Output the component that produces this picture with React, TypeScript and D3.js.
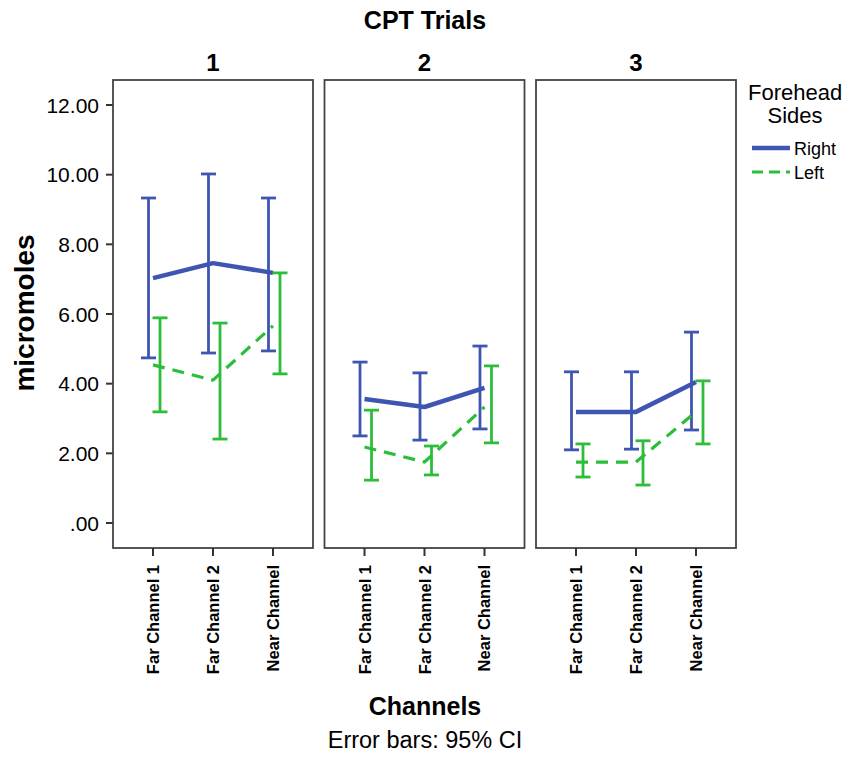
import React from 'react';
import * as d3 from 'd3';

const trials = ['1', '2', '3'];
const channels = ['Far Channel 1', 'Far Channel 2', 'Near Channel'];
const yTicks = [0, 2, 4, 6, 8, 10, 12];

// means and 95% CI per trial (rows) and channel (cols)
const rightMean = [[7.03, 7.46, 7.18], [3.56, 3.33, 3.88], [3.19, 3.19, 4.05]];
const rightLow = [[4.74, 4.88, 4.94], [2.5, 2.38, 2.7], [2.1, 2.12, 2.67]];
const rightHigh = [[9.33, 10.02, 9.33], [4.62, 4.31, 5.08], [4.34, 4.34, 5.48]];
const leftMean = [[4.54, 4.1, 5.66], [2.18, 1.75, 3.33], [1.75, 1.75, 3.19]];
const leftLow = [[3.19, 2.41, 4.28], [1.23, 1.38, 2.3], [1.32, 1.09, 2.27]];
const leftHigh = [[5.89, 5.74, 7.18], [3.24, 2.21, 4.51], [2.27, 2.36, 4.08]];

const BLUE = '#3f55b2';
const GREEN = '#2dbd3b';
const FONT = 'Liberation Sans, Arial, sans-serif';

export default function App() {
  const width = 845;
  const height = 759;
  const panelTop = 80;
  const panelBottom = 548;
  const panelW = 200;
  const panelGap = 11.5;
  const firstLeft = 113;

  const y = d3.scaleLinear().domain([0, 12]).range([523, 105]);
  const x = d3.scalePoint<string>().domain(channels).range([0, panelW]).padding(0.667);
  const line = d3.line<number>().x((_, i) => x(channels[i]) as number).y(d => y(d));

  const series = [
    { name: 'Right', color: BLUE, mean: rightMean, low: rightLow, high: rightHigh, off: -4.5, dash: null, lw: 4.5 },
    { name: 'Left', color: GREEN, mean: leftMean, low: leftLow, high: leftHigh, off: 7, dash: '12,8', lw: 3.2 },
  ];

  return (
    <svg width={width} height={height} style={{ position: 'absolute', left: 0, top: 0, background: '#fff' }}>
      <text x={425} y={29} textAnchor="middle" fontFamily={FONT} fontWeight="bold" fontSize={25}>CPT Trials</text>

      {/* y axis */}
      <g>
        {yTicks.map(t => (
          <g key={t}>
            <line x1={106} x2={113} y1={y(t)} y2={y(t)} stroke="#333" strokeWidth={2} />
            <text x={99} y={y(t) + 7.5} textAnchor="end" fontFamily={FONT} fontSize={21}>
              {t === 0 ? '.00' : t.toFixed(2)}
            </text>
          </g>
        ))}
        <text transform={`translate(34,313) rotate(-90)`} textAnchor="middle" fontFamily={FONT} fontWeight="bold" fontSize={28}>micromoles</text>
      </g>

      {trials.map((tr, p) => {
        const left = firstLeft + p * (panelW + panelGap);
        return (
          <g key={tr} transform={`translate(${left},0)`}>
            <text x={panelW / 2} y={71} textAnchor="middle" fontFamily={FONT} fontWeight="bold" fontSize={24}>{tr}</text>
            <rect x={0} y={panelTop} width={panelW} height={panelBottom - panelTop} fill="none" stroke="#444" strokeWidth={1.8} />
            {channels.map(c => (
              <g key={c}>
                <line x1={x(c)} x2={x(c)} y1={panelBottom} y2={panelBottom + 8} stroke="#333" strokeWidth={2} />
                <text transform={`translate(${(x(c) as number) + 6},${panelBottom + 17}) rotate(-90)`} textAnchor="end"
                  fontFamily={FONT} fontWeight="bold" fontSize={16.5}>{c}</text>
              </g>
            ))}
            {series.map(s => (
              <g key={s.name}>
                {channels.map((c, i) => {
                  const cx = (x(c) as number) + s.off;
                  return (
                    <g key={c} stroke={s.color} strokeWidth={2.8}>
                      <line x1={cx} x2={cx} y1={y(s.low[p][i])} y2={y(s.high[p][i])} />
                      <line x1={cx - 7.5} x2={cx + 7.5} y1={y(s.low[p][i])} y2={y(s.low[p][i])} />
                      <line x1={cx - 7.5} x2={cx + 7.5} y1={y(s.high[p][i])} y2={y(s.high[p][i])} />
                    </g>
                  );
                })}
                <path d={line(s.mean[p]) || ''} fill="none" stroke={s.color} strokeWidth={s.lw}
                  strokeDasharray={s.dash || undefined} strokeLinejoin="round" />
              </g>
            ))}
          </g>
        );
      })}

      <text x={425} y={715} textAnchor="middle" fontFamily={FONT} fontWeight="bold" fontSize={25}>Channels</text>
      <text x={425} y={748} textAnchor="middle" fontFamily={FONT} fontSize={23.5}>Error bars: 95% CI</text>

      {/* legend */}
      <g fontFamily={FONT}>
        <text x={748} y={100} fontSize={22}>Forehead</text>
        <text x={795} y={123} textAnchor="middle" fontSize={22}>Sides</text>
        {series.map((s, i) => (
          <g key={s.name} transform={`translate(0,${148 + i * 24})`}>
            <line x1={752} x2={790} y1={0} y2={0} stroke={s.color} strokeWidth={s.lw}
              strokeDasharray={s.dash ? '11,6' : undefined} />
            <text x={794} y={6.5} fontSize={18}>{s.name}</text>
          </g>
        ))}
      </g>
    </svg>
  );
}
